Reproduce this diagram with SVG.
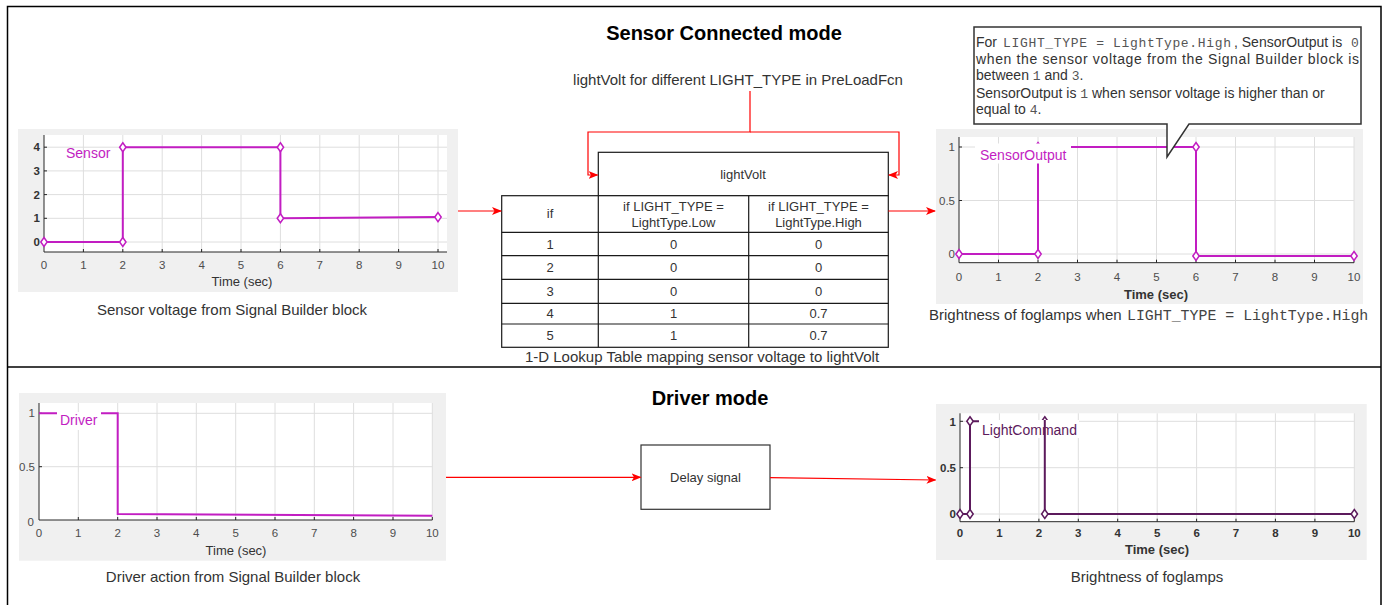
<svg xmlns="http://www.w3.org/2000/svg" width="1382" height="605" viewBox="0 0 1382 605">
<style>
text{font-family:"Liberation Sans",Arial,sans-serif;fill:#333}
.mono{font-family:"Liberation Mono","Courier New",monospace}
.title{font-size:20px;font-weight:bold;fill:#000}
.cap{font-size:15px;text-anchor:middle}
.tk{font-size:11.5px;fill:#4d4d4d;text-anchor:middle}
.tkb{font-size:11.5px;fill:#333;font-weight:bold;text-anchor:middle}
.yl{font-size:11.5px;fill:#4d4d4d;text-anchor:end}
.ylb{font-size:11.5px;fill:#333;font-weight:bold;text-anchor:end}
.panel{fill:#f0f0f0}
.ax{fill:#fff}
.grid{stroke:#dedede;stroke-width:1;fill:none}
.axl{stroke:#262626;stroke-width:1;fill:none}
.sig{stroke:#c21dc2;stroke-width:2;fill:none}
.sig2{stroke:#5c1a5c;stroke-width:2;fill:none}
.mk{fill:#fff;stroke:#c21dc2;stroke-width:1.5}
.mk2{fill:#fff;stroke:#5c1a5c;stroke-width:1.5}
.lbl{font-size:14px;fill:#c21dc2}
.lbl2{font-size:14px;fill:#5c1a5c}
.cell{fill:#fff;stroke:#1a1a1a;stroke-width:1.2}
.tt{font-size:13px;text-anchor:middle}
.conn{stroke:#ff0000;stroke-width:1.2;fill:none}
.frame{stroke:#000;stroke-width:1.5;fill:none}
.co{font-size:14px}
.com{font-size:13px;font-family:"Liberation Mono","Courier New",monospace;fill:#555}
.tl{font-size:13px;text-anchor:middle}
</style>
<defs>
<marker id="arr" markerWidth="10" markerHeight="8" refX="9" refY="4" orient="auto" markerUnits="userSpaceOnUse">
<path d="M0,0 L10,4 L0,8 L2.5,4 Z" fill="#ff0000"/>
</marker>
<path id="dm" d="M0,-4.5 L3.2,0 L0,4.5 L-3.2,0 Z"/>
</defs>
<rect width="1382" height="605" fill="#fff"/>
<g id="frame">
<path class="frame" d="M7.5,605 V6.5 H1381 V605"/>
<line class="frame" x1="7.5" y1="367" x2="1381" y2="367"/>
</g>
<text class="title" x="724" y="40" text-anchor="middle">Sensor Connected mode</text>
<text class="title" x="710" y="405" text-anchor="middle">Driver mode</text>

<!-- Plot A -->
<g id="plot-sensor">
<rect class="panel" x="18" y="129" width="440" height="163"/>
<rect class="ax" x="44" y="135" width="403" height="117"/>
<path class="grid" d="M83.4,135V252M122.8,135V252M162.2,135V252M201.6,135V252M241,135V252M280.4,135V252M319.8,135V252M359.2,135V252M398.6,135V252M438,135V252M44,242H447M44,218.3H447M44,194.6H447M44,170.9H447M44,147.2H447"/>
<path class="axl" d="M44,135V252H447M83.4,252v-3M122.8,252v-3M162.2,252v-3M201.6,252v-3M241,252v-3M280.4,252v-3M319.8,252v-3M359.2,252v-3M398.6,252v-3M438,252v-3M44,242h3M44,218.3h3M44,194.6h3M44,170.9h3M44,147.2h3"/>
<text class="ylb" x="40" y="151">4</text><text class="ylb" x="40" y="175">3</text><text class="ylb" x="40" y="198.6">2</text><text class="ylb" x="40" y="222.3">1</text><text class="ylb" x="40" y="246">0</text>
<text class="tk" x="44" y="269">0</text><text class="tk" x="83.4" y="269">1</text><text class="tk" x="122.8" y="269">2</text><text class="tk" x="162.2" y="269">3</text><text class="tk" x="201.6" y="269">4</text><text class="tk" x="241" y="269">5</text><text class="tk" x="280.4" y="269">6</text><text class="tk" x="319.8" y="269">7</text><text class="tk" x="359.2" y="269">8</text><text class="tk" x="398.6" y="269">9</text><text class="tk" x="438" y="269">10</text>
<text x="242" y="286" font-size="13" text-anchor="middle" fill="#4d4d4d">Time (sec)</text>
<path class="sig" d="M44,242H122.8V147.2H280.4V218.3L438,217.1"/>
<use href="#dm" class="mk" x="44" y="242"/><use href="#dm" class="mk" x="122.8" y="242"/><use href="#dm" class="mk" x="122.8" y="147.2"/><use href="#dm" class="mk" x="280.4" y="147.2"/><use href="#dm" class="mk" x="280.4" y="218.3"/><use href="#dm" class="mk" x="438" y="217.1"/>
<text class="lbl" x="66" y="158">Sensor</text>
<text class="cap" x="232" y="315">Sensor voltage from Signal Builder block</text>
</g>

<!-- Table -->
<g id="lookup-table">
<text class="cap" x="738" y="85">lightVolt for different LIGHT_TYPE in PreLoadFcn</text>
<rect class="cell" x="598.3" y="152.3" width="290" height="43.4"/>
<text class="tt" x="743" y="179">lightVolt</text>
<rect class="cell" x="501.7" y="195.7" width="386.6" height="151.6"/>
<path class="cell" d="M501.7,232.3H888.3M501.7,255.7H888.3M501.7,279.3H888.3M501.7,303.3H888.3M501.7,324H888.3M598.3,195.7V347.3M748.7,195.7V347.3"/>
<text class="tt" x="550" y="218">if</text>
<text class="tt" x="673.5" y="211">if LIGHT_TYPE =</text><text class="tt" x="673.5" y="226.5">LightType.Low</text>
<text class="tt" x="818.5" y="211">if LIGHT_TYPE =</text><text class="tt" x="818.5" y="226.5">LightType.High</text>
<text class="tt" x="550" y="248.5">1</text><text class="tt" x="673.5" y="248.5">0</text><text class="tt" x="818.5" y="248.5">0</text>
<text class="tt" x="550" y="272">2</text><text class="tt" x="673.5" y="272">0</text><text class="tt" x="818.5" y="272">0</text>
<text class="tt" x="550" y="295.8">3</text><text class="tt" x="673.5" y="295.8">0</text><text class="tt" x="818.5" y="295.8">0</text>
<text class="tt" x="550" y="318.2">4</text><text class="tt" x="673.5" y="318.2">1</text><text class="tt" x="818.5" y="318.2">0.7</text>
<text class="tt" x="550" y="340.2">5</text><text class="tt" x="673.5" y="340.2">1</text><text class="tt" x="818.5" y="340.2">0.7</text>
<text class="cap" x="702" y="362">1-D Lookup Table mapping sensor voltage to lightVolt</text>
</g>

<!-- Plot B -->
<g id="plot-sensoroutput">
<rect class="panel" x="936" y="129" width="427" height="175"/>
<rect class="ax" x="959" y="137" width="395" height="125.7"/>
<path class="grid" d="M998.5,137V262.7M1038,137V262.7M1077.5,137V262.7M1117,137V262.7M1156.5,137V262.7M1196,137V262.7M1235.5,137V262.7M1275,137V262.7M1314.5,137V262.7M1354,137V262.7M959,254H1354M959,200.5H1354M959,147H1354"/>
<path class="axl" d="M959,137V262.7H1354M998.5,262.7v-3M1038,262.7v-3M1077.5,262.7v-3M1117,262.7v-3M1156.5,262.7v-3M1196,262.7v-3M1235.5,262.7v-3M1275,262.7v-3M1314.5,262.7v-3M1354,262.7v-3M959,254h3M959,200.5h3M959,147h3"/>
<text class="yl" x="955" y="151">1</text><text class="yl" x="955" y="205">0.5</text><text class="yl" x="955" y="258">0</text>
<text class="tk" x="959" y="281">0</text><text class="tk" x="998.5" y="281">1</text><text class="tk" x="1038" y="281">2</text><text class="tk" x="1077.5" y="281">3</text><text class="tk" x="1117" y="281">4</text><text class="tk" x="1156.5" y="281">5</text><text class="tk" x="1196" y="281">6</text><text class="tk" x="1235.5" y="281">7</text><text class="tk" x="1275" y="281">8</text><text class="tk" x="1314.5" y="281">9</text><text class="tk" x="1354" y="281">10</text>
<text x="1156" y="298.5" font-size="13" font-weight="bold" text-anchor="middle">Time (sec)</text>
<path class="sig" d="M959,254H1038V147H1196V256H1354"/>
<use href="#dm" class="mk" x="1038" y="147"/>
<rect x="975" y="143.5" width="96" height="20" fill="#fff"/>
<text class="lbl" x="980" y="160">SensorOutput</text>
<use href="#dm" class="mk" x="959" y="254"/><use href="#dm" class="mk" x="1038" y="254"/><use href="#dm" class="mk" x="1196" y="147"/><use href="#dm" class="mk" x="1196" y="256"/><use href="#dm" class="mk" x="1354" y="256"/>
<text x="929" y="320" font-size="15">Brightness of foglamps when <tspan class="mono" font-size="14.9" x="1127" fill="#444">LIGHT_TYPE = LightType.High</tspan></text>
</g>

<!-- Callout -->
<g id="callout">
<path d="M974,27H1361V124H1189L1167,157V124H974Z" fill="#fff" stroke="#333" stroke-width="1.5"/>
<text class="co" y="47"><tspan x="976">For</tspan><tspan class="com" x="1003" textLength="228" lengthAdjust="spacing">LIGHT_TYPE = LightType.High</tspan><tspan x="1234">, SensorOutput is</tspan><tspan class="com" x="1351">0</tspan></text>
<text class="co" x="976" y="64" textLength="383" lengthAdjust="spacing">when the sensor voltage from the Signal Builder block is</text>
<text class="co" x="976" y="80">between <tspan class="com">1</tspan> and <tspan class="com">3</tspan>.</text>
<text class="co" x="976" y="97.5">SensorOutput is <tspan class="com">1</tspan> when sensor voltage is higher than or</text>
<text class="co" x="976" y="114">equal to <tspan class="com">4</tspan>.</text>
</g>

<!-- Plot C -->
<g id="plot-driver">
<rect class="panel" x="19" y="393" width="427" height="167.7"/>
<rect class="ax" x="39" y="403" width="393.3" height="117"/>
<path class="grid" d="M78.3,403V520M117.7,403V520M157,403V520M196.3,403V520M235.7,403V520M275,403V520M314.3,403V520M353.6,403V520M393,403V520M432.3,403V520M39,466.7H432.3M39,413.3H432.3"/>
<path class="axl" d="M39,403V520H432.3M78.3,520v-3M117.7,520v-3M157,520v-3M196.3,520v-3M235.7,520v-3M275,520v-3M314.3,520v-3M353.6,520v-3M393,520v-3M432.3,520v-3M39,466.7h3M39,413.3h3"/>
<text class="yl" x="35" y="417">1</text><text class="yl" x="35" y="471">0.5</text><text class="yl" x="34" y="526">0</text>
<text class="tk" x="39" y="537">0</text><text class="tk" x="78.3" y="537">1</text><text class="tk" x="117.7" y="537">2</text><text class="tk" x="157" y="537">3</text><text class="tk" x="196.3" y="537">4</text><text class="tk" x="235.7" y="537">5</text><text class="tk" x="275" y="537">6</text><text class="tk" x="314.3" y="537">7</text><text class="tk" x="353.6" y="537">8</text><text class="tk" x="393" y="537">9</text><text class="tk" x="432.3" y="537">10</text>
<text x="236" y="554.5" font-size="13" text-anchor="middle" fill="#4d4d4d">Time (sec)</text>
<path class="sig" d="M39,413.3H117.7V514L432.3,515.7"/>
<rect x="57" y="412" width="44" height="18" fill="#fff"/>
<text class="lbl" x="60" y="425">Driver</text>
<text class="cap" x="233" y="582">Driver action from Signal Builder block</text>
</g>

<!-- Delay block -->
<g id="delay-signal">
<rect x="641" y="445" width="129" height="64.3" fill="#fff" stroke="#333" stroke-width="1.2"/>
<text x="705.5" y="482" font-size="13" text-anchor="middle">Delay signal</text>
</g>

<!-- Plot D -->
<g id="plot-lightcommand">
<rect class="panel" x="936" y="404" width="430.7" height="156"/>
<rect class="ax" x="960" y="413.3" width="394.3" height="108.4"/>
<path class="grid" d="M999.4,413.3V521.7M1038.9,413.3V521.7M1078.3,413.3V521.7M1117.7,413.3V521.7M1157.2,413.3V521.7M1196.6,413.3V521.7M1236,413.3V521.7M1275.4,413.3V521.7M1314.9,413.3V521.7M1354.3,413.3V521.7M960,514H1354.3M960,467.7H1354.3M960,421.3H1354.3"/>
<path class="axl" d="M960,413.3V521.7H1354.3M999.4,521.7v-3M1038.9,521.7v-3M1078.3,521.7v-3M1117.7,521.7v-3M1157.2,521.7v-3M1196.6,521.7v-3M1236,521.7v-3M1275.4,521.7v-3M1314.9,521.7v-3M1354.3,521.7v-3M960,514h3M960,467.7h3M960,421.3h3"/>
<text class="ylb" x="956" y="425.5">1</text><text class="ylb" x="956" y="472">0.5</text><text class="ylb" x="956" y="518">0</text>
<text class="tkb" x="960" y="537">0</text><text class="tkb" x="999.4" y="537">1</text><text class="tkb" x="1038.9" y="537">2</text><text class="tkb" x="1078.3" y="537">3</text><text class="tkb" x="1117.7" y="537">4</text><text class="tkb" x="1157.2" y="537">5</text><text class="tkb" x="1196.6" y="537">6</text><text class="tkb" x="1236" y="537">7</text><text class="tkb" x="1275.4" y="537">8</text><text class="tkb" x="1314.9" y="537">9</text><text class="tkb" x="1354.3" y="537">10</text>
<text x="1157" y="553.5" font-size="13" font-weight="bold" text-anchor="middle">Time (sec)</text>
<path class="sig2" d="M960,514H970V421.3H1044.8"/>
<use href="#dm" class="mk2" x="1044.8" y="421.3"/>
<rect x="979" y="420" width="100" height="18" fill="#fff"/>
<text class="lbl2" x="982" y="435">LightCommand</text>
<path class="sig2" d="M1044.8,420V514H1354.3"/>
<use href="#dm" class="mk2" x="960" y="514"/><use href="#dm" class="mk2" x="970" y="514"/><use href="#dm" class="mk2" x="970" y="421.3"/><use href="#dm" class="mk2" x="1044.8" y="514"/><use href="#dm" class="mk2" x="1354.3" y="514"/>
<text class="cap" x="1147" y="582">Brightness of foglamps</text>
</g>

<!-- Connectors -->
<g id="connectors">
<path class="conn" d="M458,211H501" marker-end="url(#arr)"/>
<path class="conn" d="M888.3,211H935" marker-end="url(#arr)"/>
<path class="conn" d="M750,91V132H588V175H597.5" marker-end="url(#arr)"/>
<path class="conn" d="M750,132H899V175H889" marker-end="url(#arr)"/>
<path class="conn" d="M446,477.3H640.5" marker-end="url(#arr)"/>
<path class="conn" d="M770,477.7L935.5,480" marker-end="url(#arr)"/>
</g>
</svg>
